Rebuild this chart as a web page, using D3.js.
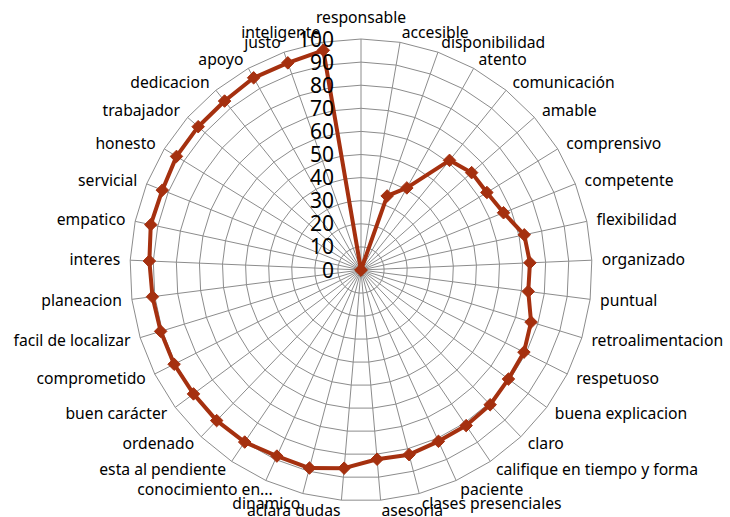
<!DOCTYPE html>
<html lang="es">
<head>
  <meta charset="UTF-8">
  <title>Radar</title>
  <script src="https://d3js.org/d3.v7.min.js"></script>
  <style>
    body { margin: 0; background: #fff; }
    text { font-family: "Noto Sans", sans-serif; fill: #000; }
    .cat { font-size: 15.7px; }
    .tick { font-size: 21px; }
  </style>
</head>
<body>
  <svg id="svg" width="730" height="517"></svg>
  <script>
    // categorias en el sentido de las agujas del reloj, empezando arriba
    var categories = ['responsable', 'accesible', 'disponibilidad', 'atento', 'comunicación',
      'amable', 'comprensivo', 'competente', 'flexibilidad', 'organizado', 'puntual',
      'retroalimentacion', 'respetuoso', 'buena explicacion', 'claro',
      'califique en tiempo y forma', 'paciente', 'clases presenciales', 'asesoria',
      'aclara dudas', 'dinamico', 'conocimiento en...', 'esta al pendiente', 'ordenado',
      'buen carácter', 'comprometido', 'facil de localizar', 'planeacion', 'interes',
      'empatico', 'servicial', 'honesto', 'trabajador', 'dedicacion', 'apoyo', 'justo',
      'inteligente']
    var values = [0, 0, 34, 40.7, 61, 63.8, 64, 66.5, 72.3, 73.2, 73, 77, 79, 79.4, 80.8,
      81.3, 81.4, 82.6, 82.2, 86.1, 88.6, 88.4, 89.9, 90.3, 90.2, 90.6, 90.7, 91, 91.7,
      93.1, 92.7, 93.8, 93.9, 94, 95.3, 95.1, 96.5]
    var ticks = [0, 10, 20, 30, 40, 50, 60, 70, 80, 90, 100]

    var cx = 361, cy = 270, R = 231
    var n = categories.length

    var r = d3.scaleLinear().domain([0, 100]).range([0, R])
    var angle = d3.scaleLinear().domain([0, n]).range([0, 2 * Math.PI])

    var svg = d3.select('#svg')
    var g = svg.append('g').attr('transform', 'translate(' + cx + ',' + cy + ')')

    // rejilla
    var gridLine = d3.lineRadial()
      .angle(function (d) { return angle(d) })
      .curve(d3.curveLinearClosed)
    ticks.slice(1).forEach(function (t) {
      g.append('path')
        .attr('d', gridLine.radius(r(t))(d3.range(n)))
        .attr('fill', 'none')
        .attr('stroke', '#8c8c8c')
        .attr('stroke-width', 1)
    })

    g.selectAll('line.spoke')
      .data(d3.range(n))
      .enter()
      .append('line')
      .attr('class', 'spoke')
      .attr('x1', 0).attr('y1', 0)
      .attr('x2', function (i) { return r(100) * Math.sin(angle(i)) })
      .attr('y2', function (i) { return -r(100) * Math.cos(angle(i)) })
      .attr('stroke', '#8c8c8c')
      .attr('stroke-width', 1)

    // etiquetas de categoria
    g.selectAll('text.cat')
      .data(categories)
      .enter()
      .append('text')
      .attr('class', 'cat')
      .attr('x', function (d, i) {
        var x = (r(100) + 10) * Math.sin(angle(i))
        // la etiqueta recortada queda algo desplazada en el original
        if (d.slice(-3) === '...') x += 11
        return x
      })
      .attr('y', function (d, i) {
        var s = Math.sin(angle(i)), c = Math.cos(angle(i))
        var y = -(r(100) + 10) * c
        if (Math.abs(s) < 0.01) y -= 12 * c
        return y
      })
      .attr('dy', '0.35em')
      .attr('text-anchor', function (d, i) {
        var s = Math.sin(angle(i))
        return Math.abs(s) < 0.01 ? 'middle' : (s > 0 ? 'start' : 'end')
      })
      .text(function (d) { return d })

    // serie
    var line = d3.lineRadial()
      .angle(function (d, i) { return angle(i) })
      .radius(function (d) { return r(d) })
      .curve(d3.curveLinearClosed)
    g.append('path')
      .attr('d', line(values))
      .attr('fill', 'none')
      .attr('stroke', '#a5300f')
      .attr('stroke-width', 4)
      .attr('stroke-linejoin', 'round')

    g.selectAll('path.dot')
      .data(values)
      .enter()
      .append('path')
      .attr('class', 'dot')
      .attr('d', d3.symbol().type(d3.symbolDiamond2).size(100))
      .attr('transform', function (d, i) {
        var a = angle(i)
        return 'translate(' + (r(d) * Math.sin(a)) + ',' + (-r(d) * Math.cos(a)) + ')'
      })
      .attr('fill', '#a5300f')
      .attr('stroke', '#a5300f')
      .attr('stroke-width', 1)

    // eje de valores
    g.selectAll('text.tick')
      .data(ticks)
      .enter()
      .append('text')
      .attr('class', 'tick')
      .attr('x', -27)
      .attr('y', function (d) { return -r(d) })
      .attr('dy', '0.36em')
      .attr('text-anchor', 'end')
      .text(function (d) { return d })
  </script>
</body>
</html>
